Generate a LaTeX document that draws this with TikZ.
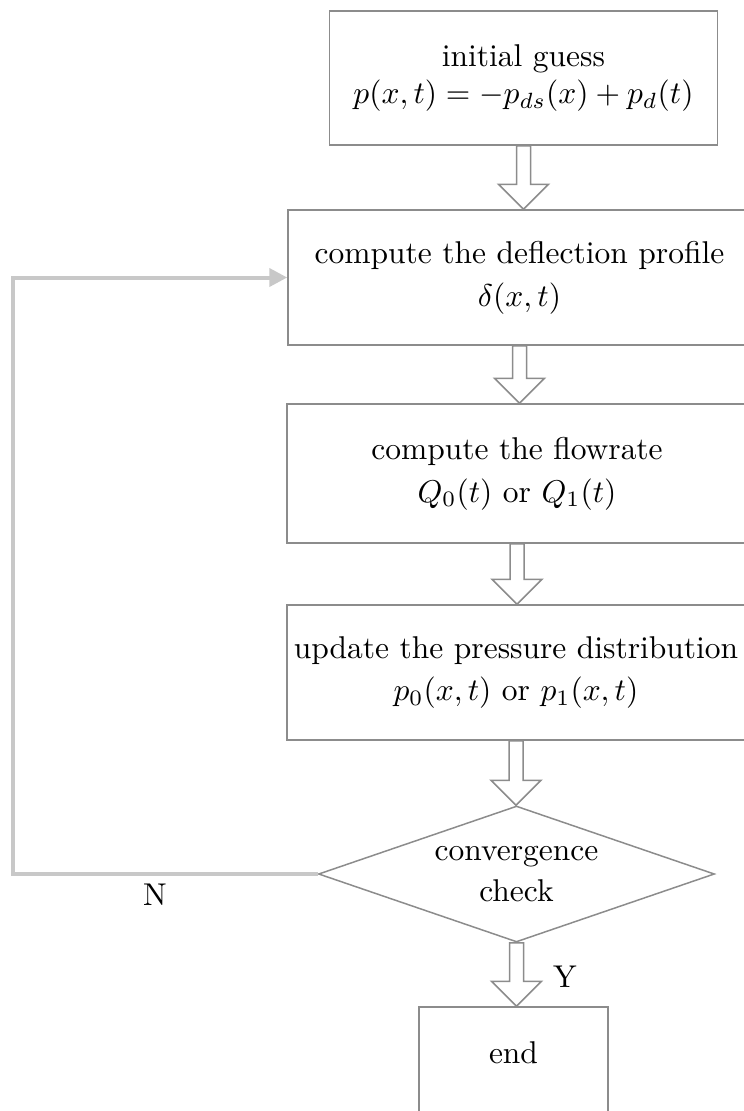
\documentclass[tikz,border=0pt]{standalone}
\usetikzlibrary{calc,arrows.meta,shapes.geometric}
\definecolor{boxgray}{HTML}{8C8C8C}
\definecolor{loopgray}{HTML}{C8C8C8}
% one drawing unit
\def\pxu{0.3175pt}
\tikzset{
  stepbox/.style={draw=boxgray, line width=1.5*\pxu, rectangle, inner sep=0pt, align=center},
  hollow/.style={draw=boxgray, line width=1.5*\pxu, fill=white, line join=miter},
  loopline/.style={draw=loopgray, line width=4*\pxu, -{Triangle[length=18*\pxu, width=18*\pxu]}},
  tag/.style={inner sep=0pt}
}
% open block arrow from the bottom of #1 down to the top of #2
\newcommand\hollowarrow[2]{%
  \draw[hollow] ($(#1.south)+(-7,0)$) -- ($(#1.south |- #2.north)+(-7,-25)$)
    -- ($(#1.south |- #2.north)+(-25,-25)$) -- (#1.south |- #2.north)
    -- ($(#1.south |- #2.north)+(25,-25)$) -- ($(#1.south |- #2.north)+(7,-25)$)
    -- ($(#1.south)+(7,0)$) -- cycle;}
\begin{document}
\begin{tikzpicture}[x=\pxu, y=-\pxu]
\useasboundingbox (0,0) rectangle (744,1111);
\clip (0,0) rectangle (744,1111);

\node[stepbox, minimum width=388*\pxu, minimum height=134*\pxu] (init) at (523.5,78)
  {initial guess\\$p(x,t)=-p_{ds}(x)+p_d(t)$};
\node[stepbox, minimum width=463*\pxu, minimum height=135*\pxu] (defl) at (519.5,277.5)
  {compute the deflection profile\\[1.65pt]$\delta(x,t)$};
\node[stepbox, minimum width=460*\pxu, minimum height=139*\pxu] (flow) at (517,473.5)
  {compute the flowrate\\[1.65pt]$Q_0(t)$ or $Q_1(t)$};
\node[stepbox, minimum width=458*\pxu, minimum height=135*\pxu] (upd) at (516,672.5)
  {update the pressure distribution\\[1.65pt]$p_0(x,t)$ or $p_1(x,t)$};
\node[diamond, draw=boxgray, line width=1.5*\pxu, inner sep=0pt,
      minimum width=396*\pxu, minimum height=136*\pxu] (chk) at (516.5,874) {};
\node[align=center, inner sep=0pt] (chktxt) at (chk) {convergence\\[1.3pt]check};
\node[stepbox, minimum width=189*\pxu, minimum height=135*\pxu] (fin) at (513.5,1074.5)
  {end\\[1.65pt]\mbox{}};

\hollowarrow{init}{defl}
\hollowarrow{defl}{flow}
\hollowarrow{flow}{upd}
\hollowarrow{upd}{chk}
\hollowarrow{chk}{fin}

\coordinate (loopcorner) at (13,874);
\draw[loopline] (chk.west) -- (loopcorner) |- (defl.west);

\node[tag] (nlab) at (155,895) {N};
\node[tag] (ylab) at (565,977) {Y};
\end{tikzpicture}
\end{document}
